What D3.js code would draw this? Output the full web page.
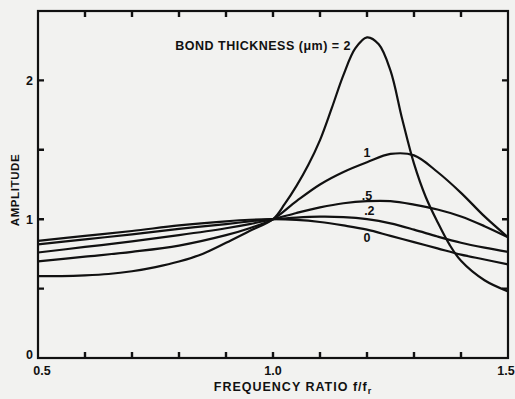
<!DOCTYPE html>
<html lang="en">
  <head>
    <meta charset="UTF-8" />
    <title>Amplitude vs frequency ratio</title>
    <style>
      html, body { margin: 0; padding: 0; background: #f2f2f0; }
      svg { display: block; }
      text { font-family: "Liberation Sans", Arial, sans-serif; font-weight: bold; fill: #111; }
    </style>
  </head>
  <body>
<script src="https://cdn.jsdelivr.net/npm/d3@7"></script>
<script>
// frequency ratio sample points
var freq = [0.5, 0.6, 0.7, 0.8, 0.9, 0.95, 1.0, 1.05, 1.1, 1.15, 1.2, 1.25, 1.3, 1.35, 1.4, 1.45, 1.5];

// amplitude for each bond thickness (um)
var amp0  = [0.844, 0.88, 0.915, 0.955, 0.985, 0.996, 1.0, 0.995, 0.98, 0.955, 0.925, 0.88, 0.835, 0.79, 0.745, 0.71, 0.674];
var amp02 = [0.818, 0.855, 0.89, 0.93, 0.965, 0.984, 1.0, 1.012, 1.018, 1.015, 1.0, 0.97, 0.925, 0.875, 0.83, 0.795, 0.765];
var amp05 = [0.76, 0.80, 0.84, 0.885, 0.935, 0.965, 1.0, 1.045, 1.085, 1.115, 1.13, 1.13, 1.105, 1.07, 1.02, 0.95, 0.87];
var amp1  = [0.696, 0.73, 0.765, 0.81, 0.885, 0.935, 1.0, 1.13, 1.25, 1.34, 1.41, 1.47, 1.46, 1.34, 1.19, 1.02, 0.87];

// thickness 2 is much sharper, so it gets its own finer grid
var freq2 = [0.5, 0.55, 0.6, 0.65, 0.7, 0.75, 0.8, 0.85, 0.9, 0.95, 1.0, 1.025, 1.05, 1.075, 1.1, 1.125, 1.15, 1.175, 1.2, 1.225, 1.25, 1.275, 1.3, 1.325, 1.35, 1.375, 1.4, 1.45, 1.5];
var amp2  = [0.59, 0.59, 0.595, 0.605, 0.625, 0.655, 0.695, 0.75, 0.83, 0.915, 1.0, 1.11, 1.24, 1.39, 1.57, 1.80, 2.04, 2.23, 2.31, 2.26, 2.07, 1.72, 1.40, 1.16, 0.98, 0.82, 0.70, 0.56, 0.48];

var curveLabels = ["1", ".5", ".2", "0"];
var labelFreq   = [1.20, 1.20, 1.205, 1.20];
var labelAmp    = [1.45, 1.14, 1.03, 0.835];

var xTicks = [0.5, 0.6, 0.7, 0.8, 0.9, 1.0, 1.1, 1.2, 1.3, 1.4, 1.5];
var xLabels = {"0.5": "0.5", "1": "1.0", "1.5": "1.5"};
var yTicks = [0, 0.5, 1, 1.5, 2];
var yLabels = {"0": "0", "1": "1", "2": "2"};

var width = 515, height = 399;
var margin = {top: 11, right: 7, bottom: 41, left: 38};
var tick = 6;

var svg = d3.select("body").append("svg")
  .attr("width", width)
  .attr("height", height);

var x = d3.scaleLinear().domain([0.5, 1.5]).range([margin.left, width - margin.right]);
var y = d3.scaleLinear().domain([0, 2.5]).range([height - margin.bottom, margin.top]);

var line = d3.line()
  .x(function(d) { return x(d[0]); })
  .y(function(d) { return y(d[1]); })
  .curve(d3.curveCatmullRom.alpha(0.5));

var series = [amp0, amp02, amp05, amp1].map(function(a) {
  return d3.zip(freq, a);
});
series.push(d3.zip(freq2, amp2));

svg.selectAll("path.curve")
  .data(series)
  .enter()
  .append("path")
  .attr("class", "curve")
  .attr("d", line)
  .attr("fill", "none")
  .attr("stroke", "#111")
  .attr("stroke-width", 2.2);

// frame
svg.append("rect")
  .attr("x", x(0.5))
  .attr("y", y(2.5))
  .attr("width", x(1.5) - x(0.5))
  .attr("height", y(0) - y(2.5))
  .attr("fill", "none")
  .attr("stroke", "#111")
  .attr("stroke-width", 2.2);

// inward ticks on all four sides, as one path
var tp = d3.path();
xTicks.slice(1, -1).forEach(function(d) {
  tp.moveTo(x(d), y(0)); tp.lineTo(x(d), y(0) - tick);
  tp.moveTo(x(d), y(2.5)); tp.lineTo(x(d), y(2.5) + tick);
});
yTicks.slice(1).forEach(function(d) {
  tp.moveTo(x(0.5), y(d)); tp.lineTo(x(0.5) + tick, y(d));
  tp.moveTo(x(1.5), y(d)); tp.lineTo(x(1.5) - tick, y(d));
});
svg.append("path")
  .attr("d", tp.toString())
  .attr("fill", "none")
  .attr("stroke", "#111")
  .attr("stroke-width", 2.4);

// tick labels
svg.selectAll("text.xl")
  .data(xTicks.filter(function(d) { return xLabels[String(d)]; }))
  .enter().append("text").attr("class", "xl")
  .attr("x", function(d) { return x(d) + (d === 0.5 ? 4 : (d === 1.5 ? -2 : 0)); })
  .attr("y", y(0) + 17)
  .attr("text-anchor", "middle")
  .style("font-size", "12.5px")
  .text(function(d) { return xLabels[String(d)]; });

svg.selectAll("text.ylab")
  .data(yTicks.filter(function(d) { return yLabels[String(d)]; }))
  .enter().append("text").attr("class", "ylab")
  .attr("x", x(0.5) - 5)
  .attr("y", function(d) { return y(d) + (d === 0 ? 1 : 4.5); })
  .attr("text-anchor", "end")
  .style("font-size", "12.5px")
  .text(function(d) { return yLabels[String(d)]; });

// curve labels
svg.append("text")
  .attr("x", 351)
  .attr("y", 50)
  .attr("text-anchor", "end")
  .style("font-size", "12.5px")
  .style("letter-spacing", "0.5px")
  .text("BOND THICKNESS (\u03BCm) = 2");

svg.selectAll("text.clabel")
  .data(curveLabels)
  .enter()
  .append("text")
  .attr("class", "clabel")
  .attr("x", function(d, i) { return x(labelFreq[i]); })
  .attr("y", function(d, i) { return y(labelAmp[i]); })
  .attr("text-anchor", "middle")
  .style("font-size", "12.5px")
  .text(function(d) { return d; });

// axis titles
var xt = svg.append("text")
  .attr("x", 293)
  .attr("y", 391)
  .attr("text-anchor", "middle")
  .style("font-size", "12.5px")
  .style("letter-spacing", "1px");
xt.append("tspan").text("FREQUENCY  RATIO  f/f");
xt.append("tspan").attr("dy", 3).style("font-size", "9px").text("r");

svg.append("text")
  .attr("transform", "translate(19,190) rotate(-90)")
  .attr("text-anchor", "middle")
  .style("font-size", "11.5px")
  .style("letter-spacing", "0.6px")
  .text("AMPLITUDE");
</script>
  </body>
</html>
